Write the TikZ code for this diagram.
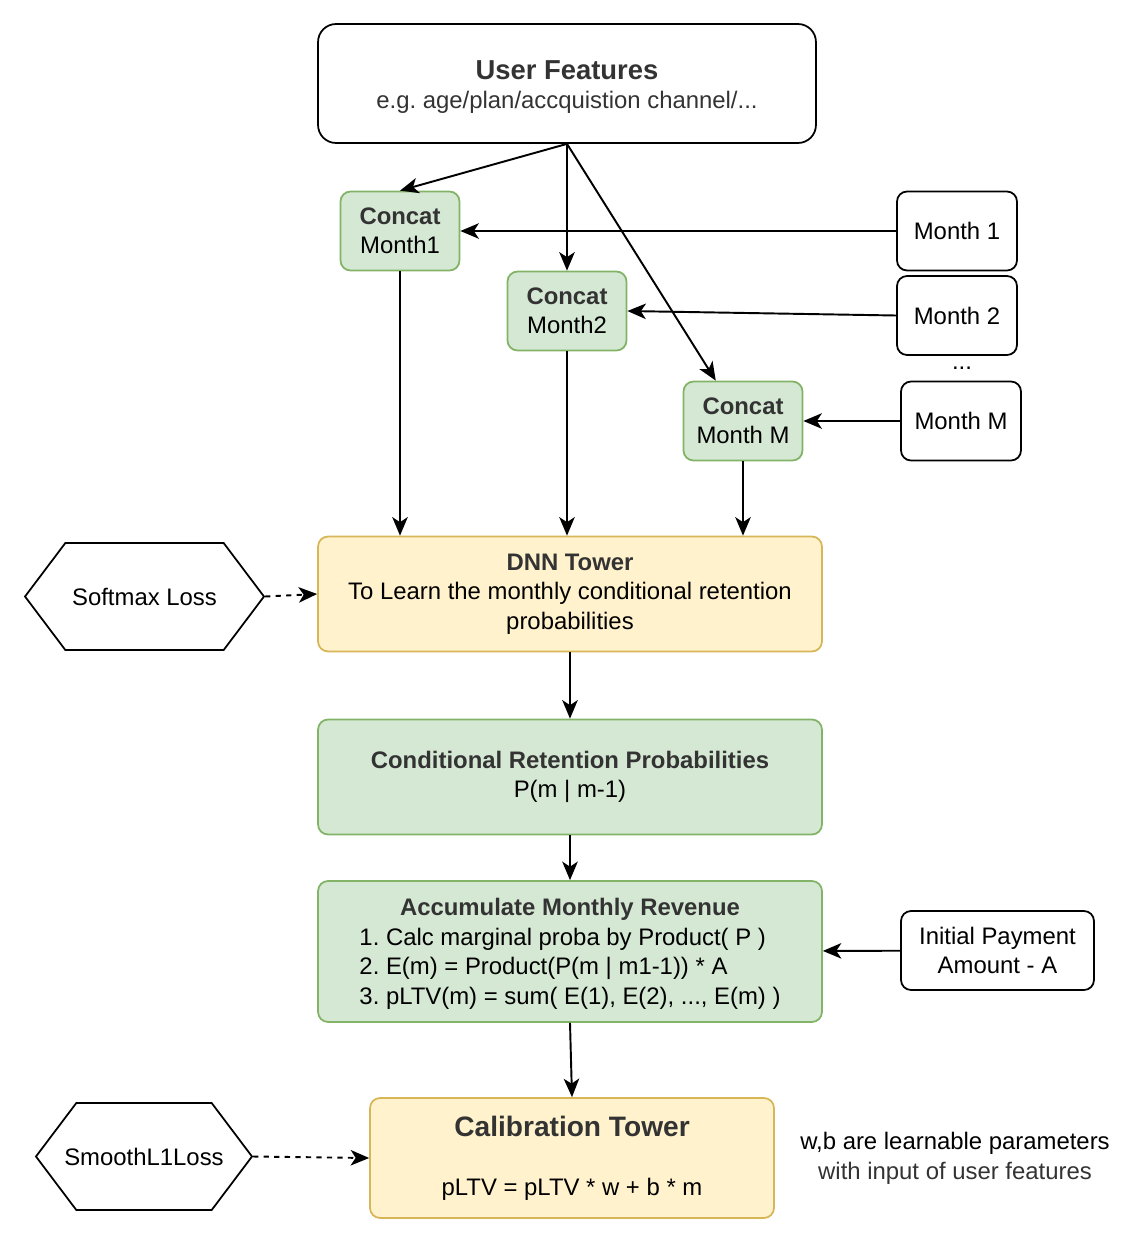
\documentclass[tikz,border=0pt]{standalone}
\usepackage{fontspec}
\setmainfont{Liberation Sans}
\usetikzlibrary{arrows.meta,shapes.symbols}
\definecolor{greenfill}{HTML}{D5E8D4}
\definecolor{greenline}{HTML}{82B366}
\definecolor{yellowfill}{HTML}{FFF2CC}
\definecolor{yellowline}{HTML}{D6B656}
\definecolor{headtext}{HTML}{333333}
\newcommand{\headline}[1]{{\color{headtext}\bfseries #1}}
\frenchspacing

\begin{document}
\begin{tikzpicture}[x=0.02cm, y=-0.02cm,
        >={Stealth[length=0.37cm, width=0.31cm, inset=0.1cm]},
        font=\fontsize{13.6}{16.8}\selectfont]
        \tikzset{
            box/.style={draw, line width=1pt, rounded corners=0.2cm, align=center, inner sep=0pt},
            greenbox/.style={box, fill=greenfill, draw=greenline},
            yellowbox/.style={box, fill=yellowfill, draw=yellowline},
            lossbox/.style={draw, line width=1pt, signal, signal to=east and west, signal pointer angle=106, inner sep=0pt, minimum height=2.14cm},
            link/.style={->, line width=1.1pt},
            losslink/.style={link, dashed}}
        \useasboundingbox (0,0) rectangle (1146,1245);
        %
        \node[box, rounded corners=0.36cm, minimum width=9.96cm, minimum height=2.38cm] (UF) at (567,83.5)
            {\raisebox{-0.09cm}[\height][\depth]{\begin{tabular}{@{}c@{}}{\fontsize{15.6}{18}\selectfont\headline{User Features}}\\{\color{headtext}e.g. age/plan/accquistion channel/...}\end{tabular}}};
        %
        \node[greenbox, minimum width=2.38cm, minimum height=1.58cm] (C1) at (400,231) {\headline{Concat}\\Month1};
        \node[greenbox, minimum width=2.38cm, minimum height=1.58cm] (C2) at (567,311) {\headline{Concat}\\Month2};
        \node[greenbox, minimum width=2.38cm, minimum height=1.58cm] (CM) at (743,421) {\headline{Concat}\\Month M};
        %
        \node[box, minimum width=2.4cm, minimum height=1.58cm] (M1) at (957,231) {Month 1};
        \node[box, minimum width=2.4cm, minimum height=1.58cm] (M2) at (957,315.5) {Month 2};
        \node (dots) at (962,368) {...};
        \node[box, minimum width=2.4cm, minimum height=1.58cm] (MM) at (961,421) {Month M};
        %
        \node[yellowbox, minimum width=10.08cm, minimum height=2.3cm] (DNN) at (570,594)
            {\headline{DNN Tower}\\To Learn the monthly conditional retention\\probabilities};
        \node[lossbox, minimum width=4.78cm] (SL) at (144.5,596.5) {Softmax Loss};
        %
        \node[greenbox, minimum width=10.08cm, minimum height=2.3cm] (CR) at (570,777)
            {\headline{Conditional Retention Probabilities}\\P(m | m-1)};
        %
        \node[greenbox, minimum width=10.08cm, minimum height=2.82cm] (AR) at (570,951.5)
            {\raisebox{-0.05cm}[\height][\depth]{\begin{tabular}{@{}c@{}}\headline{Accumulate Monthly Revenue}\\
             \begin{tabular}{@{}l@{}}1. Calc marginal proba by Product( P )\\2. E(m) = Product(P(m | m1-1)) * A\\3. pLTV(m) = sum( E(1), E(2), ..., E(m) )\end{tabular}\end{tabular}}};
        \node[box, minimum width=3.86cm, minimum height=1.58cm] (IP) at (997.5,950.5) {Initial Payment\\Amount - A};
        %
        \node[yellowbox, minimum width=8.08cm, minimum height=2.4cm] (CT) at (572,1158)
            {{\fontsize{16}{18}\selectfont\headline{Calibration Tower}}\\[17pt]pLTV = pLTV * w + b * m};
        \node[lossbox, minimum width=4.2cm, inner xsep=-0.24cm] (SM) at (144,1156.5) {SmoothL1Loss};
        \node[align=center] (note) at (955,1158.5) {w,b are learnable parameters\\{\color{headtext}with input of user features}};
        %
        \draw[link] (UF.south) -- (C1.north);
        \draw[link] (UF.south) -- (C2.north);
        \draw[link] (UF.south) -- (CM.124);
        \draw[link] (M1) -- (C1);
        \draw[link] (M2.west) -- (C2.east);
        \draw[link] (MM) -- (CM);
        %
        \draw[link] (C1.south) -- (C1.south |- DNN.north);
        \draw[link] (C2.south) -- (C2.south |- DNN.north);
        \draw[link] (CM.south) -- (CM.south |- DNN.north);
        \draw[losslink] (SL.east) -- (DNN.west);
        %
        \draw[link] (DNN) -- (CR);
        \draw[link] (CR) -- (AR);
        \draw[link] (IP) -- (AR);
        \draw[link] (AR.south) -- (CT.north);
        \draw[losslink] (SM.east) -- (CT.west);
\end{tikzpicture}
\end{document}
